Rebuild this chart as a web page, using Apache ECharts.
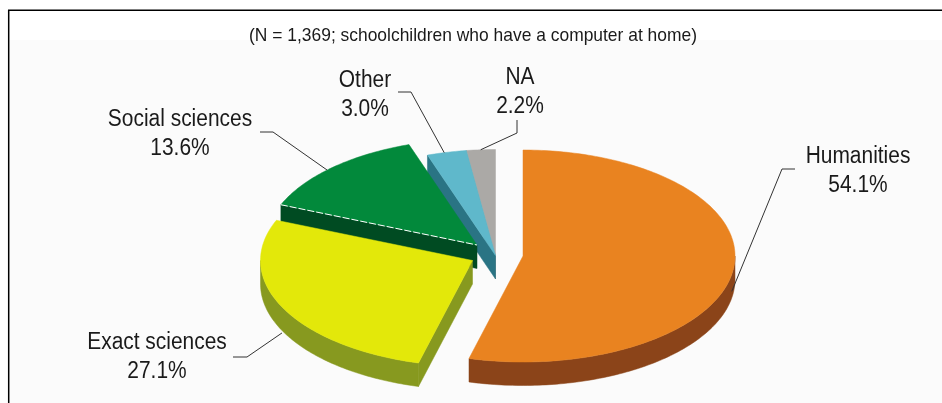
<!DOCTYPE html>
<html>
<head>
<meta charset="utf-8">
<style>html,body{margin:0;padding:0;background:#fff}#chart{width:942px;height:403px}</style>
<script src="https://cdn.jsdelivr.net/npm/echarts@6/dist/echarts.min.js"></script>
</head>
<body>
<div id="chart"></div>
<script>
// Survey shares, clockwise from twelve o'clock.
const categories = ['Humanities', 'Exact sciences', 'Social sciences', 'Other', 'NA'];
const shares = [54.1, 27.1, 13.6, 3.0, 2.2];
const subtitle = '(N = 1,369; schoolchildren who have a computer at home)';

// Per-slice appearance.
const topColors = ['#E98320', '#E3E80A', '#02893B', '#5FB8CB', '#ABA9A6'];
const sideColors = ['#8B4419', '#87991F', '#004B22', '#2A7484', '#7F7D7A'];
const slicePivots = [[523, 256], [472.5, 260.5], [477, 245], [495.5, 255.5], [495.5, 255.5]];
const paintOrder = [4, 3, 2, 1, 0];

// Ellipse radii and extrusion height of the tilted disc.
const RX = 212, RY = 106, DEPTH = 23.5;

// Text is set in a condensed width.
const FONT = '"Liberation Sans"';
const LABEL_SQUEEZE = 0.91;
const SUBTITLE_SQUEEZE = 0.917;

// Label centre, elbow of the leader, start of the leader, and where it meets the slice.
const labelCentres = [[858, 171], [157, 357], [180, 134], [365, 95], [520, 92]];
const leaderStarts = [[795, 169], [233, 357], [260, 132], [398, 92], [517, 120]];
const leaderElbows = [[782, 169], [247, 357], [273, 132], [411, 92], [517, 133]];
// Leader end: [clockwise angle in degrees on the rim, extra drop below the top face].
const leaderEnds = [[100, 17], [244, 26], [315, 0], [346, 0], [356, 0]];

const toRad = Math.PI / 180;
function rimPoint(pivot, deg, drop) {
  return [pivot[0] + RX * Math.sin(deg * toRad), pivot[1] - RY * Math.cos(deg * toRad) + (drop || 0)];
}
function arc(pivot, from, to, drop) {
  const pts = [];
  const n = Math.max(2, Math.ceil(Math.abs(to - from)));
  for (let i = 0; i <= n; i++) pts.push(rimPoint(pivot, from + (to - from) * i / n, drop));
  return pts;
}

const total = shares.reduce(function (a, b) { return a + b; }, 0);
const startAngles = [];
shares.reduce(function (acc, v, i) { startAngles[i] = acc; return acc + v / total * 360; }, 0);

function renderSlice(params, api) {
  const i = params.dataIndex;
  const value = api.value(0);
  const from = startAngles[i], to = from + value / total * 360;
  const pivot = slicePivots[i];
  const z = paintOrder[i] * 10 + 1;
  const children = [];
  const side = sideColors[i];

  // Visible lower rim: the part of the arc between 3 and 9 o'clock.
  const a = Math.max(from, 90), b = Math.min(to, 270);
  if (b > a) {
    children.push({
      type: 'polygon', z2: z,
      shape: { points: arc(pivot, a, b, 0).concat(arc(pivot, b, a, DEPTH)) },
      style: { fill: side, stroke: side, lineWidth: 0.5 }
    });
  }
  // A leading cut edge in the left half of the disc faces the viewer.
  if (from > 180 && from < 360) {
    const p = rimPoint(pivot, from, 0);
    children.push({
      type: 'polygon', z2: z,
      shape: { points: [pivot, p, [p[0], p[1] + DEPTH], [pivot[0], pivot[1] + DEPTH]] },
      style: { fill: side, stroke: side, lineWidth: 0.5 }
    });
  }
  // Top face.
  const top = topColors[i];
  children.push({
    type: 'polygon', z2: z + 1,
    shape: { points: [pivot].concat(arc(pivot, from, to, 0)) },
    style: { fill: top, stroke: top, lineWidth: 0.5 }
  });
  // Light seam between the green top and its dark cut face.
  if (categories[i] === 'Social sciences') {
    const p = rimPoint(pivot, from, 0);
    children.push({
      type: 'line', z2: z + 2,
      shape: { x1: p[0], y1: p[1], x2: pivot[0], y2: pivot[1] },
      style: { stroke: '#fff', lineWidth: 1, lineDash: [7, 2] }
    });
  }

  // Leader line and its label.
  const end = rimPoint(pivot, leaderEnds[i][0], leaderEnds[i][1]);
  children.push({
    type: 'polyline', z2: 100,
    shape: { points: [leaderStarts[i], leaderElbows[i], end] },
    style: { stroke: '#333', lineWidth: 1, fill: 'none' }
  });
  children.push({
    type: 'text', z2: 101,
    x: labelCentres[i][0], y: labelCentres[i][1], scaleX: LABEL_SQUEEZE,
    style: {
      text: categories[i] + '\n' + value.toFixed(1) + '%',
      x: 0, y: 0,
      align: 'center', verticalAlign: 'middle',
      fontFamily: FONT, fontSize: 23, lineHeight: 29.5,
      fill: '#1a1a1a'
    }
  });
  return { type: 'group', children: children };
}

const chart = echarts.init(document.getElementById('chart'), null, { renderer: 'canvas' });
chart.setOption({
  animation: false,
  backgroundColor: '#fff',
  graphic: [
    { type: 'rect', z: -2, shape: { x: 9, y: 40, width: 933, height: 363 }, style: { fill: '#FBFBFB' } },
    { type: 'polyline', z: -1, shape: { points: [[8.7, 403], [8.7, 10.2], [942, 10.2]] }, style: { stroke: '#000', lineWidth: 1.5, fill: 'none' } },
    { type: 'text', z: 5, x: 473, y: 36, scaleX: SUBTITLE_SQUEEZE, style: {
      text: subtitle, x: 0, y: 0, align: 'center', verticalAlign: 'middle',
      fontFamily: FONT, fontSize: 19, fill: '#1a1a1a'
    } }
  ],
  series: [{
    type: 'custom',
    coordinateSystem: 'none',
    renderItem: renderSlice,
    data: shares.map(function (v) { return [v]; })
  }]
});
</script>
</body>
</html>
